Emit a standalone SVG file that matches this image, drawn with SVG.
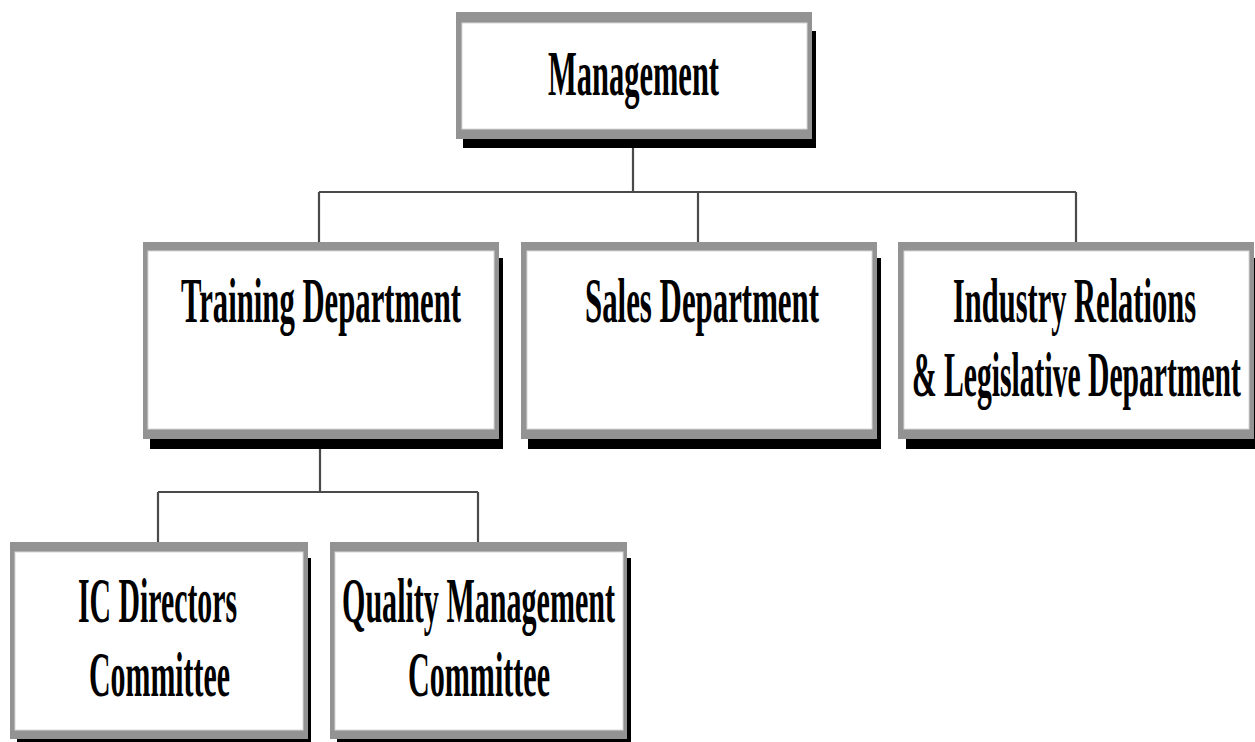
<svg xmlns="http://www.w3.org/2000/svg" width="1255" height="742" viewBox="0 0 1255 742">
<style>
.sh{fill:#000}
.bd{fill:#939393}
.in{fill:#fff;stroke:#d8d8d8;stroke-width:1}
.t{font-family:"Liberation Serif","Times New Roman",serif;font-weight:bold;font-size:63px;fill:#000}
.c{stroke:#4a4a4a;stroke-width:2.2;fill:none}
</style>
<rect width="1255" height="742" fill="#fff"/>
<g id="connectors">
<path class="c" d="M633 146V192M319 192H1076M319 192V243M698 192V243M1076 192V243"/>
<path class="c" d="M320 447V492M158 492H478M158 492V543M478 492V543"/>
</g>
<g id="management">
<rect class="sh" x="463" y="31" width="353" height="117"/>
<rect class="bd" x="456" y="12" width="356" height="127"/>
<rect class="in" x="462" y="23" width="345" height="106"/>
<text class="t" transform="translate(548 95) scale(0.5 1)" textLength="342" lengthAdjust="spacingAndGlyphs">Management</text>
</g>
<g id="training">
<rect class="sh" x="150" y="258" width="353" height="191"/>
<rect class="bd" x="143" y="242" width="356" height="197"/>
<rect class="in" x="148" y="251" width="346" height="178"/>
<text class="t" transform="translate(181 322) scale(0.5 1)" textLength="560" lengthAdjust="spacingAndGlyphs">Training Department</text>
</g>
<g id="sales">
<rect class="sh" x="528" y="258" width="353" height="191"/>
<rect class="bd" x="521" y="242" width="356" height="197"/>
<rect class="in" x="527" y="251" width="345" height="178"/>
<text class="t" transform="translate(585 322) scale(0.5 1)" textLength="468" lengthAdjust="spacingAndGlyphs">Sales Department</text>
</g>
<g id="industry">
<rect class="sh" x="906" y="258" width="352" height="191"/>
<rect class="bd" x="898" y="242" width="356" height="197"/>
<rect class="in" x="904" y="251" width="345" height="178"/>
<text class="t" transform="translate(953 322) scale(0.5 1)" textLength="486" lengthAdjust="spacingAndGlyphs">Industry Relations</text>
<text class="t" transform="translate(912 396) scale(0.45 1)" textLength="731" lengthAdjust="spacingAndGlyphs">&amp; Legislative Department</text>
</g>
<g id="ic-directors">
<rect class="sh" x="17" y="558" width="294" height="190"/>
<rect class="bd" x="10" y="542" width="298" height="197"/>
<rect class="in" x="15" y="552" width="288" height="178"/>
<text class="t" transform="translate(78 622) scale(0.5 1)" textLength="318" lengthAdjust="spacingAndGlyphs">IC Directors</text>
<text class="t" transform="translate(89 696) scale(0.5 1)" textLength="282" lengthAdjust="spacingAndGlyphs">Committee</text>
</g>
<g id="quality">
<rect class="sh" x="337" y="558" width="294" height="190"/>
<rect class="bd" x="330" y="542" width="297" height="197"/>
<rect class="in" x="335" y="552" width="288" height="178"/>
<text class="t" transform="translate(342 622) scale(0.5 1)" textLength="546" lengthAdjust="spacingAndGlyphs">Quality Management</text>
<text class="t" transform="translate(408 696) scale(0.5 1)" textLength="284" lengthAdjust="spacingAndGlyphs">Committee</text>
</g>
</svg>
